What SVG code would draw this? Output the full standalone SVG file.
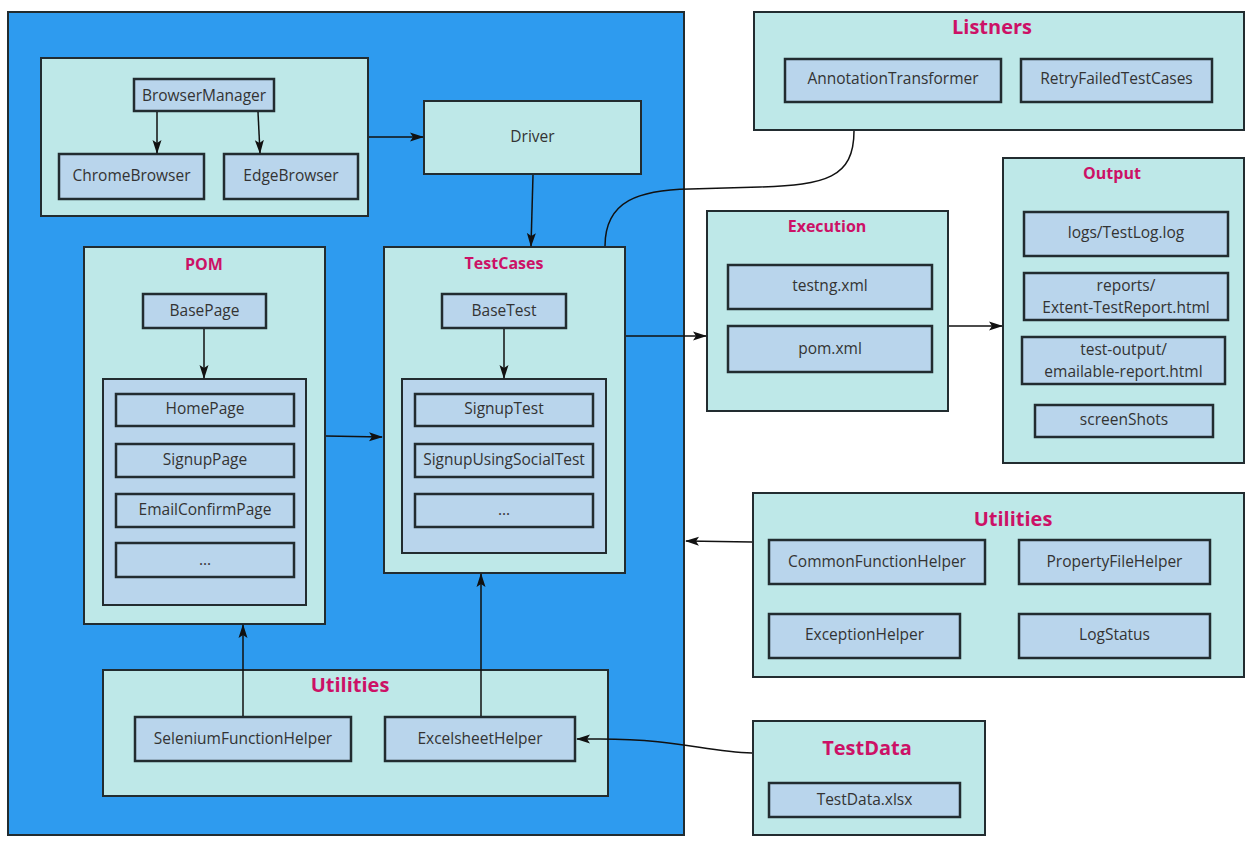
<svg xmlns="http://www.w3.org/2000/svg" width="1258" height="842" viewBox="0 0 1258 842">
<defs>
<marker id="ah" viewBox="0 0 14 10" refX="13" refY="5" markerWidth="14" markerHeight="10" markerUnits="userSpaceOnUse" orient="auto">
<path d="M0,0.5 L14,5 L0,9.5 L3,5 Z" fill="#111"/>
</marker>
<style>
.grp{fill:#bee8e8;stroke:#222c30;stroke-width:2}
.box{fill:#b9d5ec;stroke:#222c30;stroke-width:2.5}
.lst{fill:#b9d5ec;stroke:#222c30;stroke-width:2}
.t{font-family:"Open Sans","Liberation Sans",sans-serif;font-size:15.5px;fill:#333;text-anchor:middle;dominant-baseline:central}
.h{font-family:"Open Sans","Liberation Sans",sans-serif;font-weight:bold;fill:#cc1166;text-anchor:middle;dominant-baseline:central}
.h14{font-size:16px}
.h18{font-size:20px}
.c{fill:none;stroke:#111;stroke-width:1.5}
</style>
</defs>
<rect width="1258" height="842" fill="#fff"/>
<g id="main">
<rect x="8" y="12" width="676" height="823" fill="#2e9bef" stroke="#222c30" stroke-width="2"/>
</g>
<g id="browsers">
<rect class="grp" x="41" y="58" width="327" height="158"/>
<g id="BrowserManager"><rect class="box" x="134" y="79" width="140" height="32"/><text class="t" x="204" y="95">BrowserManager</text></g>
<g id="ChromeBrowser"><rect class="box" x="59" y="154" width="145" height="45"/><text class="t" x="131.5" y="175">ChromeBrowser</text></g>
<g id="EdgeBrowser"><rect class="box" x="224" y="154" width="134" height="45"/><text class="t" x="291" y="175">EdgeBrowser</text></g>
</g>
<g id="Driver"><rect class="grp" x="424" y="101" width="217" height="73"/><text class="t" x="532.5" y="136">Driver</text></g>
<g id="POM">
<rect class="grp" x="84" y="247" width="241" height="377"/>
<text class="h h14" x="204" y="264">POM</text>
<g id="BasePage"><rect class="box" x="143" y="294" width="123" height="34"/><text class="t" x="204.5" y="310">BasePage</text></g>
<rect class="lst" x="103" y="379" width="203" height="226"/>
<g id="HomePage"><rect class="box" x="116" y="394" width="178" height="32"/><text class="t" x="205" y="408">HomePage</text></g>
<g id="SignupPage"><rect class="box" x="116" y="444" width="178" height="33"/><text class="t" x="205" y="459">SignupPage</text></g>
<g id="EmailConfirmPage"><rect class="box" x="116" y="494" width="178" height="33"/><text class="t" x="205" y="509">EmailConfirmPage</text></g>
<g id="PomMore"><rect class="box" x="116" y="543" width="178" height="34"/><text class="t" x="205" y="559">...</text></g>
</g>
<g id="TestCases">
<rect class="grp" x="384" y="247" width="241" height="326"/>
<text class="h h14" x="504" y="263">TestCases</text>
<g id="BaseTest"><rect class="box" x="442" y="294" width="124" height="34"/><text class="t" x="504" y="310">BaseTest</text></g>
<rect class="lst" x="402" y="379" width="204" height="174"/>
<g id="SignupTest"><rect class="box" x="415" y="394" width="178" height="32"/><text class="t" x="504" y="408">SignupTest</text></g>
<g id="SignupUsingSocialTest"><rect class="box" x="415" y="444" width="178" height="33"/><text class="t" x="504" y="459">SignupUsingSocialTest</text></g>
<g id="TestMore"><rect class="box" x="415" y="494" width="178" height="33"/><text class="t" x="504" y="509">...</text></g>
</g>
<g id="UtilitiesInner">
<rect class="grp" x="103" y="670" width="505" height="126"/>
<text class="h h18" x="350" y="684">Utilities</text>
<g id="SeleniumFunctionHelper"><rect class="box" x="135" y="717" width="216" height="44"/><text class="t" x="243" y="738">SeleniumFunctionHelper</text></g>
<g id="ExcelsheetHelper"><rect class="box" x="385" y="717" width="190" height="44"/><text class="t" x="480" y="738">ExcelsheetHelper</text></g>
</g>
<g id="Listners">
<rect class="grp" x="754" y="12" width="490" height="118"/>
<text class="h h18" x="992" y="26">Listners</text>
<g id="AnnotationTransformer"><rect class="box" x="785" y="59" width="216" height="43"/><text class="t" x="893" y="78">AnnotationTransformer</text></g>
<g id="RetryFailedTestCases"><rect class="box" x="1021" y="59" width="191" height="43"/><text class="t" x="1116.5" y="78">RetryFailedTestCases</text></g>
</g>
<g id="Execution">
<rect class="grp" x="707" y="211" width="241" height="200"/>
<text class="h h14" x="827" y="226">Execution</text>
<g id="testng"><rect class="box" x="728" y="265" width="204" height="44"/><text class="t" x="830" y="285">testng.xml</text></g>
<g id="pomxml"><rect class="box" x="728" y="326" width="204" height="46"/><text class="t" x="830" y="348">pom.xml</text></g>
</g>
<g id="Output">
<rect class="grp" x="1003" y="158" width="241" height="305"/>
<text class="h h14" x="1112" y="173">Output</text>
<g id="TestLog"><rect class="box" x="1024" y="212" width="204" height="44"/><text class="t" x="1126" y="232">logs/TestLog.log</text></g>
<g id="ExtentReport"><rect class="box" x="1024" y="273" width="204" height="47"/><text class="t" x="1126" y="285">reports/</text><text class="t" x="1126" y="307">Extent-TestReport.html</text></g>
<g id="EmailableReport"><rect class="box" x="1022" y="337" width="203" height="47"/><text class="t" x="1123.5" y="349">test-output/</text><text class="t" x="1123.5" y="371">emailable-report.html</text></g>
<g id="screenShots"><rect class="box" x="1035" y="405" width="178" height="32"/><text class="t" x="1124" y="419">screenShots</text></g>
</g>
<g id="UtilitiesOuter">
<rect class="grp" x="753" y="493" width="491" height="184"/>
<text class="h h18" x="1013" y="518">Utilities</text>
<g id="CommonFunctionHelper"><rect class="box" x="769" y="540" width="216" height="44"/><text class="t" x="877" y="561">CommonFunctionHelper</text></g>
<g id="PropertyFileHelper"><rect class="box" x="1019" y="540" width="191" height="44"/><text class="t" x="1114.5" y="561">PropertyFileHelper</text></g>
<g id="ExceptionHelper"><rect class="box" x="769" y="614" width="191" height="44"/><text class="t" x="864.5" y="634">ExceptionHelper</text></g>
<g id="LogStatus"><rect class="box" x="1019" y="614" width="191" height="44"/><text class="t" x="1114.5" y="634">LogStatus</text></g>
</g>
<g id="TestData">
<rect class="grp" x="753" y="721" width="232" height="114"/>
<text class="h h18" x="867" y="747">TestData</text>
<g id="TestDataXlsx"><rect class="box" x="769" y="783" width="191" height="34"/><text class="t" x="864.5" y="799">TestData.xlsx</text></g>
</g>
<g id="connectors">
<path class="c" d="M157,112 L157,153" marker-end="url(#ah)"/>
<path class="c" d="M258,112 L260,153" marker-end="url(#ah)"/>
<path class="c" d="M369,137 L423,137" marker-end="url(#ah)"/>
<path class="c" d="M533,175 L531,246" marker-end="url(#ah)"/>
<path class="c" d="M204,329 L204,378" marker-end="url(#ah)"/>
<path class="c" d="M504,329 L504,378" marker-end="url(#ah)"/>
<path class="c" d="M326,436 L382,437" marker-end="url(#ah)"/>
<path class="c" d="M626,336 L706,336" marker-end="url(#ah)"/>
<path class="c" d="M949,326 L1002,326" marker-end="url(#ah)"/>
<path class="c" d="M243,716 L243,625" marker-end="url(#ah)"/>
<path class="c" d="M481,716 L481,574" marker-end="url(#ah)"/>
<path class="c" d="M752,542 L686,541" marker-end="url(#ah)"/>
<path class="c" d="M752,753 C705,752 680,739 600,739 L577,739" marker-end="url(#ah)"/>
<path class="c" d="M854,131 C854,178 825,185 760,187 L690,189 C640,190 605,200 605,246"/>
</g>
</svg>
